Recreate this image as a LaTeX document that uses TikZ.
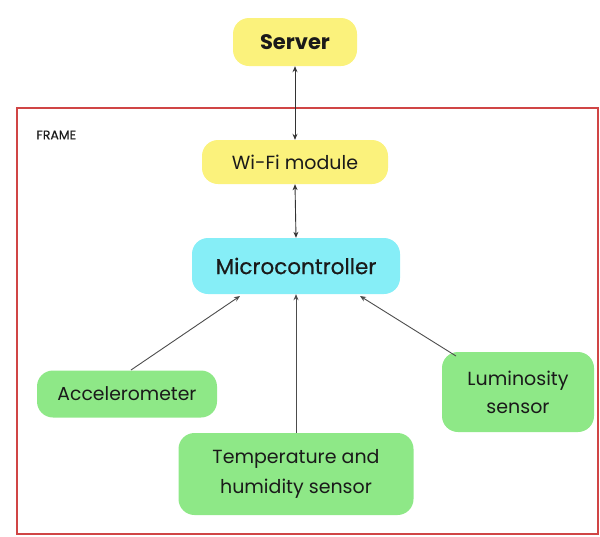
\documentclass[tikz,border=0pt]{standalone}
\usepackage{fontspec}
\setmainfont{Poppins}
\newfontfamily\medfont{Poppins}[FakeBold=0.5]
\usetikzlibrary{arrows.meta}
\definecolor{srvyellow}{HTML}{FBF27C}
\definecolor{mccyan}{HTML}{86EEF7}
\definecolor{sensgreen}{HTML}{8EE887}
\definecolor{framered}{HTML}{D04545}
\definecolor{txt}{HTML}{1A1A1A}
\tikzset{
  box/.style={rounded corners=16pt, inner sep=0pt, align=center, text=txt},
  ybox/.style={box, fill=srvyellow},
  cbox/.style={box, fill=mccyan},
  gbox/.style={box, fill=sensgreen},
  biarrow/.style={{Stealth[length=6pt,width=5pt]}-{Stealth[length=6pt,width=5pt]}, draw=black!80, line width=0.9pt},
  onearrow/.style={-{Stealth[length=6pt,width=5pt]}, draw=black!70, line width=0.9pt},
}
\begin{document}
\begin{tikzpicture}[x=1pt,y=-1pt]
\useasboundingbox (0,0) rectangle (600,536);
\draw[framered, line width=1.6pt] (17,108) rectangle (598,534);
\node[anchor=west, font=\fontsize{12.5}{14}\selectfont\medfont, text=txt] (frame) at (33,135) {FRAME};
\node[ybox, minimum width=124pt, minimum height=48pt, font=\fontsize{21}{24}\selectfont\bfseries] (server) at (295,42) {Server};
\node[ybox, minimum width=186pt, minimum height=44pt, font=\fontsize{19}{22}\selectfont] (wifi) at (295,162) {Wi-Fi module};
\node[cbox, minimum width=208pt, minimum height=56pt, font=\fontsize{21.5}{24}\selectfont\medfont] (mc) at (296,266) {Microcontroller};
\node[gbox, minimum width=180pt, minimum height=47pt, font=\fontsize{18.8}{22}\selectfont] (acc) at (127,394) {Accelerometer};
\node[gbox, minimum width=152pt, minimum height=80pt, font=\fontsize{19}{28}\selectfont] (lum) at (518,392) {Luminosity\\sensor};
\node[gbox, minimum width=235pt, minimum height=82pt, font=\fontsize{19}{30}\selectfont] (temp) at (296,474) {Temperature and\\humidity sensor};
\coordinate (mcA) at (240,296);
\coordinate (mcL) at (360,296);
\coordinate (accT) at (131,370);
\coordinate (lumT) at (456,356);
\draw[biarrow] (server.south) -- (wifi.north);
\draw[biarrow] (wifi.south) -- (mc.north);
\draw[onearrow] (accT) -- (mcA);
\draw[onearrow] (temp.north) -- (mc.south);
\draw[onearrow] (lumT) -- (mcL);
\end{tikzpicture}
\end{document}
